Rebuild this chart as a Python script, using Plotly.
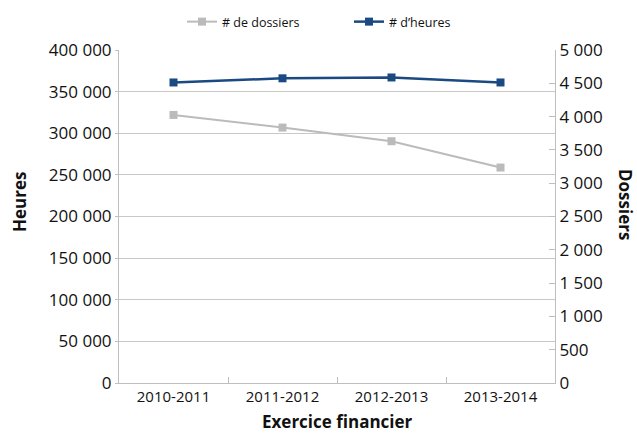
import plotly.graph_objects as go

# Fiscal years and yearly totals
exercices = ["2010-2011", "2011-2012", "2012-2013", "2013-2014"]
dossiers = [4025, 3835, 3630, 3235]
heures = [361000, 366000, 367000, 361000]

heures_ticks = list(range(0, 400001, 50000))
dossiers_ticks = list(range(0, 5001, 500))

GRAY = "#BBBBBB"
BLUE = "#1B4A82"
AXIS = "#BFBFBF"
FONT = "Open Sans"

W, H = 637, 433
ML, MR, MT, MB = 119, 82, 50, 50

fig = go.Figure()
fig.add_trace(go.Scatter(
    x=exercices, y=dossiers, name="# de dossiers", yaxis="y2",
    mode="lines+markers",
    line=dict(color=GRAY, width=2),
    marker=dict(symbol="square", size=8, color=GRAY),
))
fig.add_trace(go.Scatter(
    x=exercices, y=heures, name="# d\u2019heures", yaxis="y",
    mode="lines+markers",
    line=dict(color=BLUE, width=2.5),
    marker=dict(symbol="square", size=8, color=BLUE),
))

plot_w = W - ML - MR
plot_h = H - MT - MB

fig.update_layout(
    width=W, height=H,
    margin=dict(l=ML, r=MR, t=MT, b=MB, autoexpand=False),
    paper_bgcolor="white", plot_bgcolor="white",
    separators=", ",
    font=dict(family=FONT, color="#111111"),
    showlegend=True,
    legend=dict(
        orientation="h", x=0.5 + 12 / plot_w, xanchor="center",
        y=1 + (MT - 22) / plot_h, yanchor="middle", yref="paper",
        font=dict(size=12.5, family=FONT), entrywidth=122,
        bgcolor="rgba(0,0,0,0)",
    ),
    xaxis=dict(
        type="category", range=[-0.5, 3.5], tickson="boundaries",
        ticks="inside", ticklen=6, tickcolor=AXIS,
        showline=True, linecolor=AXIS, linewidth=1,
        showgrid=False, tickfont=dict(size=15, family=FONT),
    ),
    yaxis=dict(
        range=[0, 400000], tickvals=heures_ticks, tickformat=",d",
        showgrid=True, gridcolor="#C8C8C8", gridwidth=1,
        showline=True, linecolor=AXIS, ticks="outside", ticklen=3,
        tickcolor=AXIS, tickfont=dict(size=17, family=FONT), zeroline=False,
    ),
    yaxis2=dict(
        range=[0, 5000], tickvals=dossiers_ticks, tickformat=",d",
        overlaying="y", side="right", showgrid=False,
        showline=True, linecolor=AXIS, ticks="inside", ticklen=6,
        tickcolor=AXIS, tickfont=dict(size=17, family=FONT), zeroline=False,
    ),
    annotations=[
        dict(text="<b>Heures</b>", x=(19 - ML) / plot_w, y=(H - MB - 202) / plot_h,
             xref="paper", yref="paper", xanchor="center", yanchor="middle",
             textangle=-90, showarrow=False, font=dict(size=17, family=FONT)),
        dict(text="<b>Dossiers</b>", x=(626 - ML) / plot_w, y=(H - MB - 204) / plot_h,
             xref="paper", yref="paper", xanchor="center", yanchor="middle",
             textangle=90, showarrow=False, font=dict(size=17, family=FONT)),
        dict(text="<b>Exercice financier</b>", x=0.5, y=-(422 - (H - MB)) / plot_h,
             xref="paper", yref="paper", xanchor="center", yanchor="middle",
             showarrow=False, font=dict(size=17, family=FONT)),
    ],
)

fig.write_html("out.html")
